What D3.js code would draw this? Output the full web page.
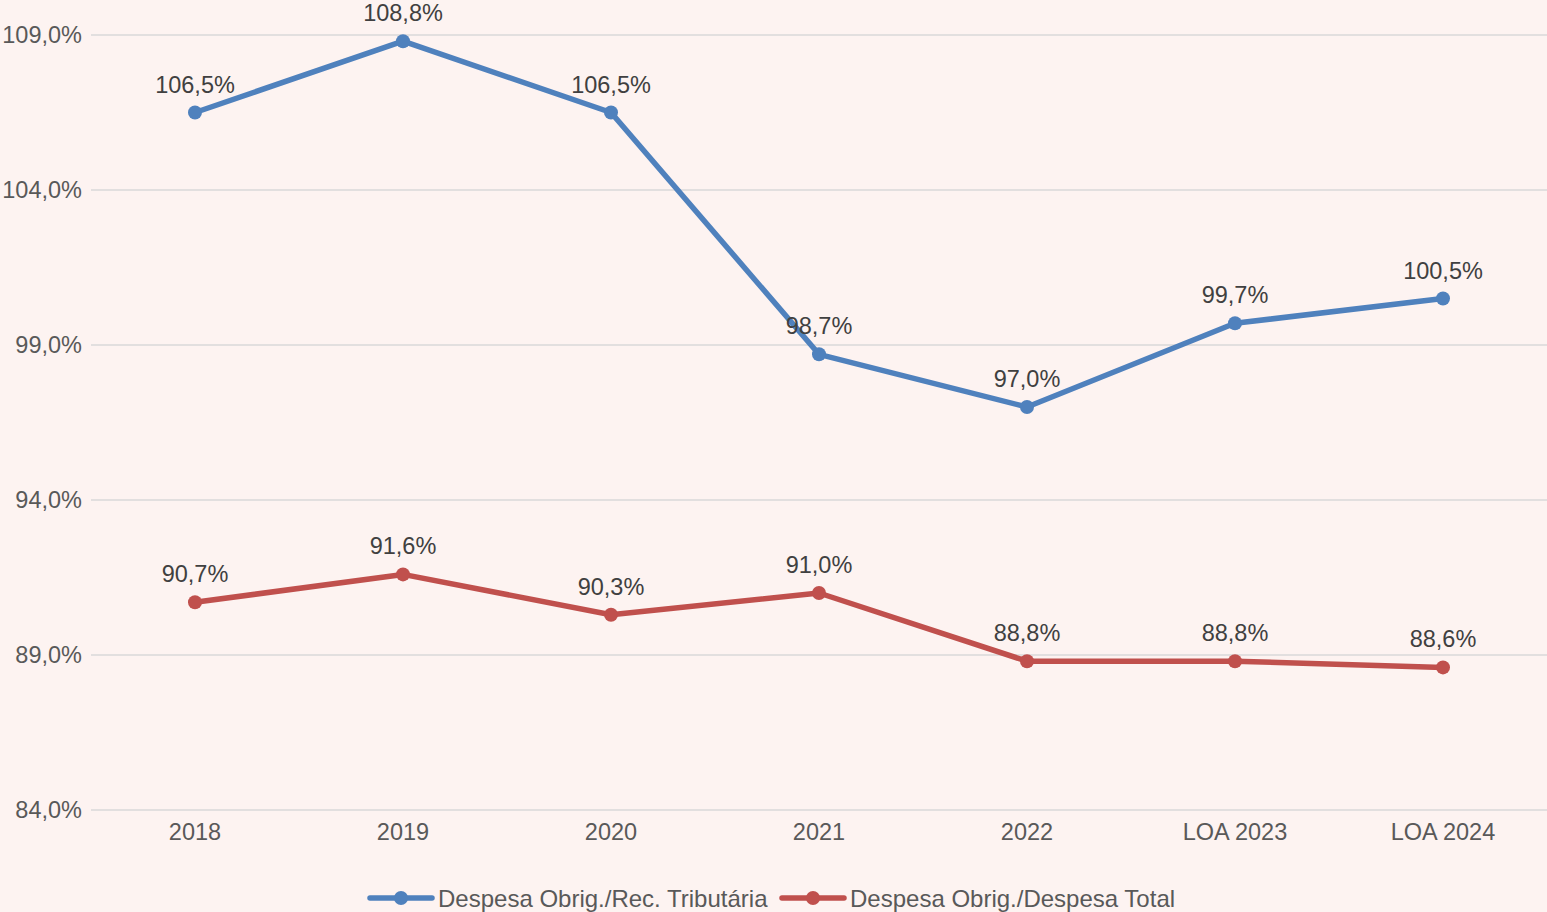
<!DOCTYPE html>
<html>
<head>
<meta charset="utf-8">
<script src="https://cdn.jsdelivr.net/npm/d3@7"></script>
<style>
  body { margin: 0; background: #fdf3f1; }
  svg { display: block; font-family: "Liberation Sans", Arial, sans-serif; }
</style>
</head>
<body>
<svg id="chart" width="1547" height="912"></svg>
<script>
// chart data
var categories = ["2018", "2019", "2020", "2021", "2022", "LOA 2023", "LOA 2024"];
var recTributaria = [106.5, 108.8, 106.5, 98.7, 97.0, 99.7, 100.5];
var despesaTotal = [90.7, 91.6, 90.3, 91.0, 88.8, 88.8, 88.6];
var yTicks = [84, 89, 94, 99, 104, 109];

var series = [
    {name: "Despesa Obrig./Rec. Tributária", values: recTributaria, color: "#4f81bd"},
    {name: "Despesa Obrig./Despesa Total", values: despesaTotal, color: "#c0504d"}
];

var width = 1547, height = 912;
var margin = {top: 35, right: 0, bottom: 102, left: 91};

var svg = d3.select("#chart");

svg.append("rect")
    .attr("width", width)
    .attr("height", height)
    .attr("fill", "#fdf3f1");

var x = d3.scalePoint()
    .domain(categories)
    .range([margin.left, width - margin.right])
    .padding(0.5);

var y = d3.scaleLinear()
    .domain([84, 109])
    .range([height - margin.bottom, margin.top]);

var fmt = function(v){ return v.toFixed(1).replace(".", ",") + "%"; };

// horizontal gridlines
svg.append("g")
    .selectAll("line")
    .data(yTicks)
    .enter()
    .append("line")
    .attr("x1", margin.left)
    .attr("x2", width - margin.right)
    .attr("y1", function(d){ return y(d); })
    .attr("y2", function(d){ return y(d); })
    .attr("stroke", "#d9d9d9")
    .attr("stroke-width", 1.5);

// y axis labels
svg.append("g")
    .selectAll("text")
    .data(yTicks)
    .enter()
    .append("text")
    .attr("x", margin.left - 9)
    .attr("y", function(d){ return y(d); })
    .attr("text-anchor", "end")
    .attr("dominant-baseline", "central")
    .attr("font-size", "23.5px")
    .attr("fill", "#595959")
    .text(fmt);

// x axis labels
svg.append("g")
    .selectAll("text")
    .data(categories)
    .enter()
    .append("text")
    .attr("x", function(d){ return x(d); })
    .attr("y", y(84) + 22)
    .attr("text-anchor", "middle")
    .attr("dominant-baseline", "central")
    .attr("font-size", "23.5px")
    .attr("fill", "#595959")
    .text(function(d){ return d; });

var line = d3.line()
    .x(function(d, i){ return x(categories[i]); })
    .y(function(d){ return y(d); });

series.forEach(function(s){
    var g = svg.append("g");

    g.append("path")
        .datum(s.values)
        .attr("d", line)
        .attr("fill", "none")
        .attr("stroke", s.color)
        .attr("stroke-width", 5.5)
        .attr("stroke-linejoin", "round")
        .attr("stroke-linecap", "round");

    g.selectAll("circle")
        .data(s.values)
        .enter()
        .append("circle")
        .attr("cx", function(d, i){ return x(categories[i]); })
        .attr("cy", function(d){ return y(d); })
        .attr("r", 7)
        .attr("fill", s.color);

    g.selectAll("text")
        .data(s.values)
        .enter()
        .append("text")
        .attr("x", function(d, i){ return x(categories[i]); })
        .attr("y", function(d){ return y(d) - 28; })
        .attr("text-anchor", "middle")
        .attr("dominant-baseline", "central")
        .attr("font-size", "23.5px")
        .attr("fill", "#404040")
        .text(fmt);
});

// legend
var legendY = 898;
var legendX = [370, 782];
series.forEach(function(s, i){
    var lg = svg.append("g")
        .attr("transform", "translate(" + legendX[i] + "," + legendY + ")");
    lg.append("line")
        .attr("x1", 0)
        .attr("x2", 62)
        .attr("stroke", s.color)
        .attr("stroke-width", 5.5)
        .attr("stroke-linecap", "round");
    lg.append("circle")
        .attr("cx", 31)
        .attr("r", 7)
        .attr("fill", s.color);
    lg.append("text")
        .attr("x", 68)
        .attr("dominant-baseline", "central")
        .attr("font-size", "24px")
        .attr("fill", "#595959")
        .text(s.name);
});
</script>
</body>
</html>
